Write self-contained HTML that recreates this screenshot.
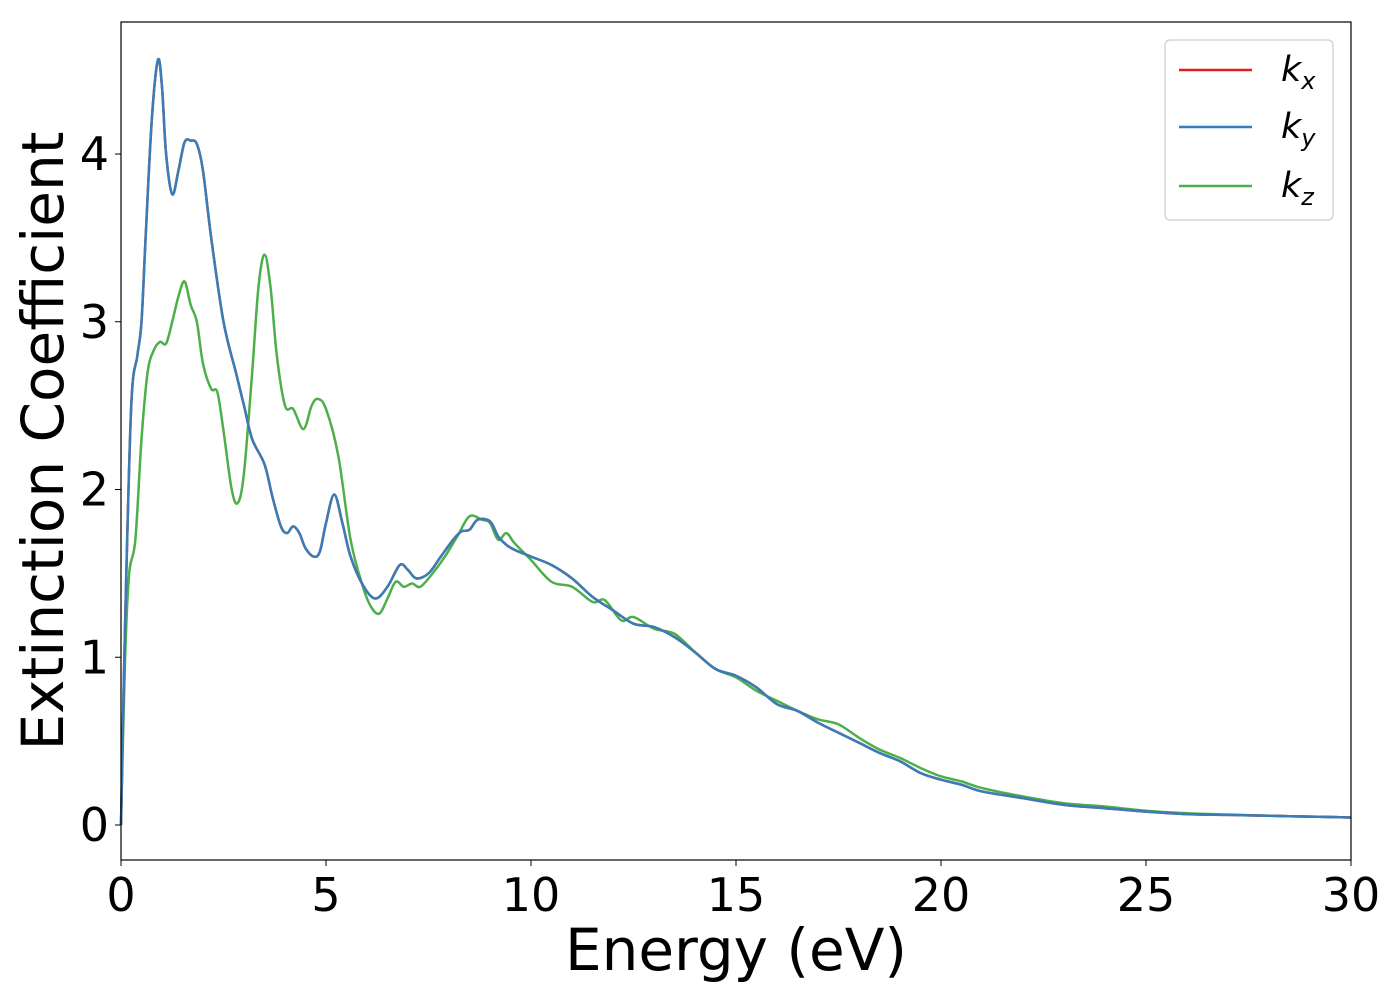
<!DOCTYPE html>
<html><head><meta charset="utf-8"><style>
body{margin:0;background:#fff}
svg text{font-family:"DejaVu Sans","Liberation Sans",sans-serif}
</style></head><body>
<svg id="chart" width="1400" height="1000" xmlns="http://www.w3.org/2000/svg">
<rect width="1400" height="1000" fill="#fff"/>
<g id="grid"></g>
<g id="series"></g>
<rect x="121" y="22" width="1230" height="838" fill="none" stroke="#000" stroke-width="1.2"/>
<g id="ticks"></g>
<text x="736" y="970" font-size="58" text-anchor="middle">Energy (eV)</text>
<text transform="translate(63,441) rotate(-90)" font-size="58" text-anchor="middle">Extinction Coefficient</text>
<g>
<rect x="1165" y="40" width="168" height="180" rx="5" fill="#fff" stroke="#ccc" stroke-width="1.2"/>
<line x1="1179" y1="70" x2="1252" y2="70" stroke="#e41a1c" stroke-width="2.5"/>
<text x="1281" y="81" font-size="35" font-style="italic">k<tspan font-size="24" dy="8">x</tspan></text>
<line x1="1179" y1="127" x2="1252" y2="127" stroke="#377eb8" stroke-width="2.5"/>
<text x="1281" y="138" font-size="35" font-style="italic">k<tspan font-size="24" dy="8">y</tspan></text>
<line x1="1179" y1="186" x2="1252" y2="186" stroke="#4daf4a" stroke-width="2.5"/>
<text x="1281" y="197" font-size="35" font-style="italic">k<tspan font-size="24" dy="8">z</tspan></text>
</g>
</svg>
<script>
const energyXY=[0,0.1,0.25,0.4,0.5,0.6,0.75,0.9,1.0,1.1,1.25,1.4,1.55,1.7,1.85,2.0,2.2,2.5,2.8,3.0,3.2,3.5,3.7,3.9,4.05,4.2,4.35,4.5,4.7,4.85,5.0,5.2,5.4,5.6,5.9,6.2,6.5,6.8,7.0,7.2,7.5,7.8,8.1,8.3,8.5,8.7,9.0,9.2,9.4,9.6,10,10.5,11,11.5,12,12.5,13,13.5,14,14.5,15,15.5,16,16.5,17,17.5,18,18.5,19,19.5,20,20.5,21,22,23,24,25,26,27,28,29,30];
const kxValues=[0,1.2,2.5,2.8,3.0,3.5,4.2,4.56,4.4,4.0,3.76,3.9,4.07,4.08,4.06,3.9,3.5,3.0,2.7,2.5,2.3,2.15,1.95,1.78,1.74,1.78,1.74,1.65,1.6,1.63,1.8,1.97,1.8,1.6,1.43,1.35,1.42,1.55,1.52,1.47,1.5,1.6,1.7,1.75,1.76,1.82,1.81,1.72,1.67,1.64,1.6,1.55,1.47,1.36,1.28,1.2,1.18,1.12,1.03,0.93,0.89,0.82,0.72,0.68,0.61,0.55,0.49,0.43,0.38,0.31,0.27,0.24,0.2,0.16,0.12,0.1,0.08,0.065,0.06,0.055,0.05,0.045];
const kyValues=kxValues.slice();
const energyZ=[0,0.1,0.2,0.35,0.5,0.65,0.8,0.95,1.1,1.25,1.4,1.55,1.7,1.85,2.0,2.2,2.35,2.5,2.7,2.85,3.0,3.2,3.35,3.5,3.65,3.8,4.0,4.2,4.45,4.65,4.8,5.0,5.3,5.6,5.9,6.1,6.3,6.5,6.7,6.9,7.1,7.3,7.6,7.9,8.2,8.5,8.8,9.0,9.2,9.4,9.6,10,10.5,11,11.5,11.8,12.2,12.5,13,13.5,14,14.5,15,15.5,16,16.5,17,17.5,18,18.5,19,19.5,20,20.5,21,22,23,24,25,26,27,28,29,30];
const kzValues=[0,1.0,1.5,1.7,2.3,2.7,2.83,2.88,2.87,3.0,3.15,3.24,3.1,3.0,2.75,2.6,2.58,2.35,2.0,1.92,2.1,2.7,3.2,3.4,3.2,2.8,2.5,2.48,2.36,2.5,2.54,2.48,2.2,1.7,1.42,1.3,1.26,1.35,1.45,1.42,1.44,1.42,1.5,1.6,1.72,1.84,1.82,1.8,1.7,1.74,1.68,1.58,1.45,1.42,1.33,1.34,1.22,1.24,1.17,1.14,1.03,0.93,0.88,0.8,0.74,0.68,0.63,0.6,0.52,0.45,0.4,0.34,0.29,0.26,0.22,0.17,0.13,0.11,0.085,0.07,0.062,0.055,0.05,0.045];
const xTicks=[0,5,10,15,20,25,30];
const yTicks=[0,1,2,3,4];
const X=v=>121+v*41, Y=v=>825-v*167.75;
const NS='http://www.w3.org/2000/svg';
function path(xs,ys){
  const p=xs.map((x,i)=>[X(x),Y(ys[i])]);
  let d='M'+p[0][0]+','+p[0][1];
  for(let i=0;i<p.length-1;i++){
    const p0=p[i-1]||p[i],p1=p[i],p2=p[i+1],p3=p[i+2]||p2;
    d+=' C'+(p1[0]+(p2[0]-p0[0])/6)+','+(p1[1]+(p2[1]-p0[1])/6)+' '+(p2[0]-(p3[0]-p1[0])/6)+','+(p2[1]-(p3[1]-p1[1])/6)+' '+p2[0]+','+p2[1];
  }
  return d;
}
const sg=document.getElementById('series');
[['series-kz',energyZ,kzValues,'#4daf4a'],['series-kx',energyXY,kxValues,'#e41a1c'],['series-ky',energyXY,kyValues,'#377eb8']].forEach(s=>{
  const el=document.createElementNS(NS,'path');
  
  
  el.setAttribute('d',path(s[1],s[2]));el.setAttribute('fill','none');
  el.setAttribute('stroke',s[3]);el.setAttribute('stroke-width','2.5');
  sg.appendChild(el);
});
const tg=document.getElementById('ticks');
xTicks.forEach(t=>{
  const l=document.createElementNS(NS,'line');
  
  
  l.setAttribute('x1',X(t));l.setAttribute('x2',X(t));l.setAttribute('y1',860);l.setAttribute('y2',866);l.setAttribute('stroke','#000');
  tg.appendChild(l);
  const tx=document.createElementNS(NS,'text');
  
  
  tx.setAttribute('x',X(t));tx.setAttribute('y',911);tx.setAttribute('font-size','46');tx.setAttribute('text-anchor','middle');
  tx.textContent=t;tg.appendChild(tx);
});
yTicks.forEach(t=>{
  const l=document.createElementNS(NS,'line');
  
  
  l.setAttribute('x1',115);l.setAttribute('x2',121);l.setAttribute('y1',Y(t));l.setAttribute('y2',Y(t));l.setAttribute('stroke','#000');
  tg.appendChild(l);
  const tx=document.createElementNS(NS,'text');
  
  
  tx.setAttribute('x',109);tx.setAttribute('y',Y(t)+16);tx.setAttribute('font-size','46');tx.setAttribute('text-anchor','end');
  tx.textContent=t;tg.appendChild(tx);
});
</script>
</body></html>
